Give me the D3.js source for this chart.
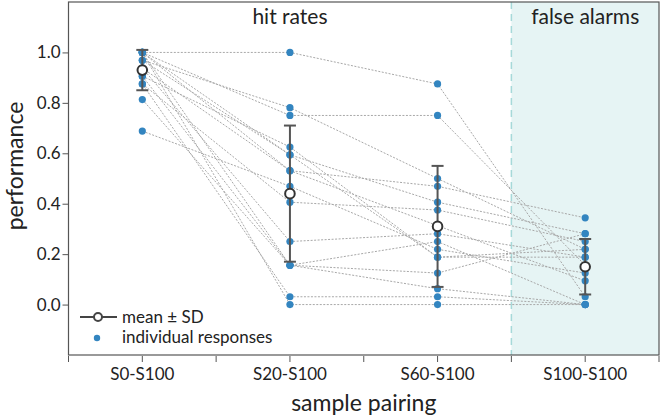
<!DOCTYPE html>
<html>
<head>
<meta charset="utf-8">
<script src="https://cdn.jsdelivr.net/npm/d3@7/dist/d3.min.js"></script>
<style>
  html, body { margin: 0; padding: 0; background: #fff; }
  svg { display: block; font-family: Lato, "Open Sans", sans-serif; }
</style>
</head>
<body>
<svg id="chart" width="661" height="420"></svg>
<script>
// ---- data (values are k/32) ----
const categories = ["S0-S100", "S20-S100", "S60-S100", "S100-S100"];
const panelLabels = ["hit rates", "false alarms"];
const s0   = [1.0, 1.0, 0.969, 0.938, 1.0, 0.906, 0.875, 1.0, 0.688, 0.969, 0.938, 0.813, 0.906, 1.0, 0.875, 1.0];
const s20  = [1.0, 0.75, 0.781, 0.531, 0.594, 0.625, 0.406, 0.531, 0.469, 0.594, 0.25, 0.156, 0.156, 0.156, 0.031, 0.0];
const s60  = [0.875, 0.75, 0.5, 0.469, 0.406, 0.188, 0.375, 0.313, 0.219, 0.188, 0.281, 0.25, 0.125, 0.063, 0.031, 0.0];
const s100 = [0.031, 0.156, 0.219, 0.344, 0.281, 0.188, 0.25, 0.094, 0.125, 0.219, 0.188, 0.0, 0.281, 0.0, 0.0, 0.0];
const means = [0.93, 0.44, 0.31, 0.15];
const sds   = [0.08, 0.27, 0.24, 0.11];
const yTicks = [0.0, 0.2, 0.4, 0.6, 0.8, 1.0];

const series = [s0, s20, s60, s100];
const participants = s0.map((_, i) => series.map(s => s[i]));

// ---- layout ----
const svg = d3.select("#chart");
const L = 68.5, R = 659, T = 2, B = 355;

const x = d3.scaleBand().domain(categories).range([L, R]).paddingInner(0).paddingOuter(0);
const cx = c => x(c) + x.bandwidth() / 2;
const y = d3.scaleLinear().domain([-0.2, 1.2]).range([B, T]);

// false alarm shading
svg.append("rect")
  .attr("x", x(categories[3])).attr("y", T)
  .attr("width", x.bandwidth()).attr("height", B - T)
  .attr("fill", "#e6f4f4");
svg.append("line")
  .attr("x1", x(categories[3])).attr("x2", x(categories[3]))
  .attr("y1", T).attr("y2", B)
  .attr("stroke", "#a6d9d9").attr("stroke-width", 1.5)
  .attr("stroke-dasharray", "7,5");

// individual lines
const line = d3.line().x((d, j) => cx(categories[j])).y(d => y(d));
svg.append("g").selectAll("path").data(participants).join("path")
  .attr("d", line)
  .attr("fill", "none")
  .attr("stroke", "#a8a8a8")
  .attr("stroke-width", 1)
  .attr("stroke-dasharray", "2,1.5");

// individual dots
participants.forEach(p => {
  svg.append("g").selectAll("circle").data(p).join("circle")
    .attr("cx", (d, j) => cx(categories[j]))
    .attr("cy", d => y(d))
    .attr("r", 3.6)
    .attr("fill", "#3385c0");
});

// mean ± SD
const gm = svg.append("g");
categories.forEach((c, j) => {
  const xc = cx(c);
  gm.append("line").attr("x1", xc).attr("x2", xc)
    .attr("y1", y(means[j] + sds[j])).attr("y2", y(means[j] - sds[j]))
    .attr("stroke", "#555").attr("stroke-width", 2);
  [means[j] + sds[j], means[j] - sds[j]].forEach(v => {
    gm.append("line").attr("x1", xc - 6).attr("x2", xc + 6)
      .attr("y1", y(v)).attr("y2", y(v))
      .attr("stroke", "#555").attr("stroke-width", 2);
  });
  gm.append("circle").attr("cx", xc).attr("cy", y(means[j])).attr("r", 4.8)
    .attr("fill", "#fff").attr("stroke", "#333").attr("stroke-width", 2);
});

// frame
svg.append("rect").attr("x", L).attr("y", T).attr("width", R - L).attr("height", B - T)
  .attr("fill", "none").attr("stroke", "#555").attr("stroke-width", 1.2);

// y axis
const yAxis = svg.append("g").attr("transform", `translate(${L},0)`)
  .call(d3.axisLeft(y).tickValues(yTicks).tickFormat(d3.format(".1f")).tickSize(6).tickPadding(2));
yAxis.select(".domain").remove();
yAxis.selectAll(".tick line").attr("stroke", "#555");
yAxis.selectAll(".tick text").attr("font-size", 17).attr("fill", "#222").attr("font-family", "Lato");

// x axis
const xAxis = svg.append("g").attr("transform", `translate(0,${B + 1})`)
  .call(d3.axisBottom(x).tickSize(6).tickPadding(6));
xAxis.select(".domain").remove();
xAxis.selectAll(".tick line").attr("stroke", "#555");
xAxis.selectAll(".tick text").attr("font-size", 17).attr("fill", "#222").attr("font-family", "Lato");
// boundary ticks
const bounds = categories.map(c => x(c)).concat([x(categories[3]) + x.bandwidth()]);
svg.append("g").selectAll("line").data(bounds).join("line")
  .attr("x1", d => d).attr("x2", d => d).attr("y1", B + 1).attr("y2", B + 7)
  .attr("stroke", "#555");

// axis titles
svg.append("text").attr("x", (L + R) / 2).attr("y", 411).attr("text-anchor", "middle")
  .attr("font-size", 23).attr("fill", "#222").text("sample pairing");
svg.append("text").attr("transform", `translate(23,166) rotate(-90)`)
  .attr("text-anchor", "middle").attr("font-size", 23).attr("fill", "#222").text("performance");

// panel labels
svg.append("text").attr("x", cx(categories[1])).attr("y", 24).attr("text-anchor", "middle")
  .attr("font-size", 21).attr("fill", "#222").text(panelLabels[0]);
svg.append("text").attr("x", cx(categories[3])).attr("y", 24).attr("text-anchor", "middle")
  .attr("font-size", 21).attr("fill", "#222").text(panelLabels[1]);

// legend
const lg = svg.append("g");
lg.append("line").attr("x1", 80).attr("x2", 117).attr("y1", 317).attr("y2", 317)
  .attr("stroke", "#444").attr("stroke-width", 2);
lg.append("circle").attr("cx", 98).attr("cy", 317).attr("r", 4)
  .attr("fill", "#fff").attr("stroke", "#444").attr("stroke-width", 2);
lg.append("text").attr("x", 122).attr("y", 323).attr("font-size", 17).attr("fill", "#222").text("mean ± SD");
lg.append("circle").attr("cx", 97).attr("cy", 338).attr("r", 3.2).attr("fill", "#3385c0");
lg.append("text").attr("x", 122).attr("y", 343).attr("font-size", 17).attr("fill", "#222").text("individual responses");
</script>
</body>
</html>
